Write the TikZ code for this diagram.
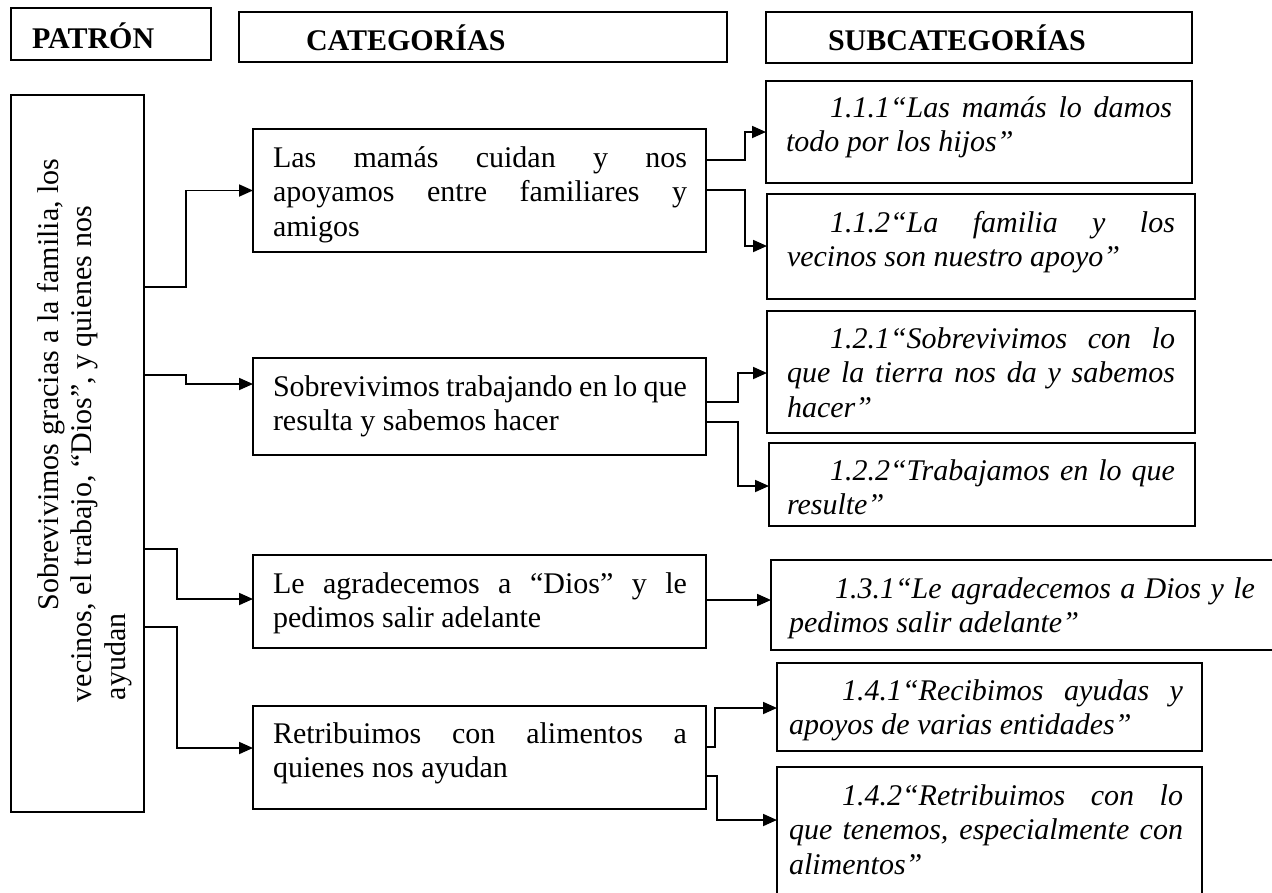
\documentclass[tikz,border=0pt]{standalone}
\usepackage{fontspec}
\setmainfont{Liberation Serif}
\usetikzlibrary{arrows.meta}
\newcommand{\jl}[1]{\makebox[\hsize][s]{#1}\\}
\newcommand{\fl}[2]{\hspace*{#1}\makebox[\dimexpr\hsize-#1\relax][s]{#2}\\}
\newcommand{\para}[2]{\vtop{\hsize=#1\relax\noindent #2}}
\tikzset{
  frame/.style={draw, line width=2pt, inner sep=0pt, outer sep=0pt, anchor=north west},
  hframe/.style={frame, line width=2.4pt},
  body/.style={inner sep=0pt, outer sep=0pt, anchor=base west, font=\fontsize{30}{34.5}\selectfont},
  htxt/.style={body, font=\fontsize{30}{34.5}\selectfont\bfseries},
  itxt/.style={body, font=\fontsize{30}{34.5}\selectfont\itshape},
  vtext/.style={body, rotate=90},
  conn/.style={line width=1.8pt, -{Triangle[length=14pt,width=12pt]}},
}
\begin{document}
\begin{tikzpicture}[x=1pt, y=-1pt, line join=miter]
\useasboundingbox (0,0) rectangle (1272,892);
\fill[white] (0,0) rectangle (1272,892);

% headers
\node[hframe, minimum width=200pt, minimum height=52pt] (hpat) at (11,8) {};
\node[hframe, minimum width=488pt, minimum height=50pt] (hcat) at (239,12) {};
\node[hframe, minimum width=426pt, minimum height=51pt] (hsub) at (766,12) {};
\node[htxt] (hpatt) at (32,48) {PATRÓN};
\node[htxt] (hcatt) at (306,50) {CATEGORÍAS};
\node[htxt] (hsubt) at (828,50) {SUBCATEGORÍAS};

% pattern box
\node[frame, line width=2.4pt, minimum width=133pt, minimum height=717pt] (pat) at (11,95) {};
\node[vtext] (pt1) at (58,610) {Sobrevivimos gracias a la familia, los};
\node[vtext] (pt2) at (91,702) {vecinos, el trabajo, “Dios”, y quienes nos};
\node[vtext] (pt3) at (125,700) {ayudan};

% category boxes
\node[frame, minimum width=453pt, minimum height=123pt] (c1) at (253,129) {};
\node[frame, minimum width=453pt, minimum height=97pt] (c2) at (253,358) {};
\node[frame, minimum width=453pt, minimum height=93pt] (c3) at (253,555) {};
\node[frame, minimum width=453pt, minimum height=103pt] (c4) at (253,706) {};
\node[body] (c1t) at (273,167) {\para{414pt}{\jl{Las mamás cuidan y nos}\jl{apoyamos entre familiares y}amigos}};
\node[body] (c2t) at (273,396) {\para{414pt}{\jl{Sobrevivimos trabajando en lo que}resulta y sabemos hacer}};
\node[body] (c3t) at (273,593) {\para{414pt}{\jl{Le agradecemos a “Dios” y le}pedimos salir adelante}};
\node[body] (c4t) at (273,743) {\para{414pt}{\jl{Retribuimos con alimentos a}quienes nos ayudan}};

% subcategory boxes
\node[frame, minimum width=426pt, minimum height=102pt] (s111) at (766,81) {};
\node[frame, minimum width=428pt, minimum height=105pt] (s112) at (767,194) {};
\node[frame, minimum width=428pt, minimum height=122pt] (s121) at (767,311) {};
\node[frame, minimum width=426pt, minimum height=83pt] (s122) at (769,443) {};
\node[frame, minimum width=505pt, minimum height=90pt] (s131) at (771,560) {};
\node[frame, minimum width=425pt, minimum height=88pt] (s141) at (777,663) {};
\node[frame, minimum width=425pt, minimum height=135pt] (s142) at (777,767) {};

\node[itxt] (s111t) at (786,117) {\para{386pt}{\fl{44pt}{1.1.1“Las mamás lo damos}todo por los hijos”}};
\node[itxt] (s112t) at (787,232) {\para{388pt}{\fl{43pt}{1.1.2“La familia y los}vecinos son nuestro apoyo”}};
\node[itxt] (s121t) at (787,348) {\para{388pt}{\fl{43pt}{1.2.1“Sobrevivimos con lo}\jl{que la tierra nos da y sabemos}hacer”}};
\node[itxt] (s122t) at (787,480) {\para{388pt}{\fl{43pt}{1.2.2“Trabajamos en lo que}resulte”}};
\node[itxt] (s131t) at (789,598) {\para{466pt}{\fl{46pt}{1.3.1“Le agradecemos a Dios y le}pedimos salir adelante”}};
\node[itxt] (s141t) at (789,700) {\para{394pt}{\fl{53pt}{1.4.1“Recibimos ayudas y}apoyos de varias entidades”}};
\node[itxt] (s142t) at (789,805) {\para{394pt}{\fl{53pt}{1.4.2“Retribuimos con lo}\jl{que tenemos, especialmente con}alimentos”}};

% connectors pattern -> categories
\draw[conn] (pat.east |- 0,287) -- ++(42,0) |- (c1.west);
\draw[conn] (pat.east |- 0,375) -- ++(42,0) |- (c2.west |- 0,384);
\draw[conn] (pat.east |- 0,549) -- ++(33,0) |- (c3.west |- 0,599);
\draw[conn] (pat.east |- 0,627) -- ++(33,0) |- (c4.west |- 0,748);

% connectors categories -> subcategories
\draw[conn] (c1.east |- 0,160) -- ++(39,0) |- (s111.west |- 0,132);
\draw[conn] (c1.east |- 0,190) -- ++(39,0) |- (s112.west |- 0,246);
\draw[conn] (c2.east |- 0,402) -- ++(32,0) |- (s121.west |- 0,373);
\draw[conn] (c2.east |- 0,422) -- ++(32,0) |- (s122.west |- 0,486);
\draw[conn] (c3.east |- 0,600) -- (s131.west |- 0,600);
\draw[conn] (c4.east |- 0,747) -- ++(9,0) |- (s141.west |- 0,708);
\draw[conn] (c4.east |- 0,776) -- ++(11,0) |- (s142.west |- 0,820);
\end{tikzpicture}
\end{document}
